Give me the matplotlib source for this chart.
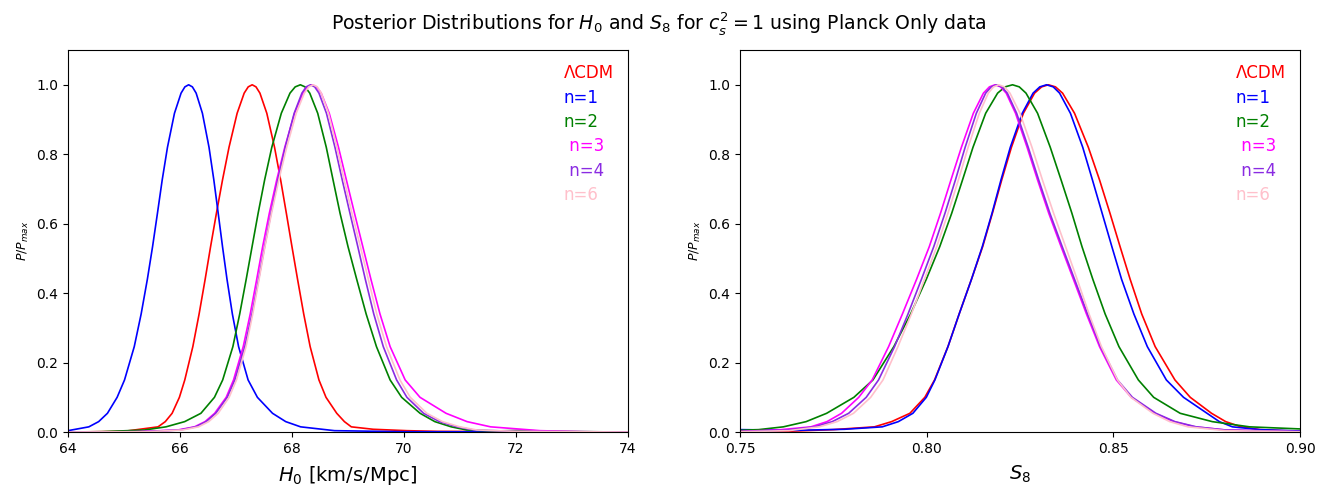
import matplotlib
matplotlib.use('Agg')
import matplotlib.pyplot as plt
from matplotlib.lines import Line2D

LEVELS = [0.015, 0.03, 0.054, 0.10, 0.15, 0.246, 0.34, 0.44, 0.534, 0.63, 0.726, 0.82, 0.918, 0.976, 0.994]

NAMES = ['ΛCDM', 'n=1', 'n=2', ' n=3', ' n=4', 'n=6']
COLORS = ['red', 'blue', 'green', 'magenta', 'blueviolet', 'pink']

# ── H0 panel: x of each side at LEVELS (both sides listed from the tail up to the peak) ──
h0_lcdm_l = [65.609, 65.738, 65.860, 65.990, 66.086, 66.230, 66.342, 66.450, 66.547, 66.651, 66.760, 66.876, 67.021, 67.147, 67.219]
h0_lcdm_r = [69.060, 68.937, 68.800, 68.608, 68.482, 68.325, 68.210, 68.100, 68.000, 67.900, 67.798, 67.689, 67.551, 67.428, 67.358]
h0_n1_l = [64.373, 64.548, 64.705, 64.878, 65.010, 65.184, 65.307, 65.418, 65.511, 65.598, 65.683, 65.777, 65.902, 66.020, 66.088]
h0_n1_r = [68.155, 67.889, 67.653, 67.383, 67.217, 67.047, 66.936, 66.840, 66.760, 66.683, 66.605, 66.519, 66.401, 66.289, 66.222]
h0_n2_l = [65.750, 66.084, 66.374, 66.616, 66.763, 66.945, 67.067, 67.183, 67.288, 67.396, 67.512, 67.640, 67.810, 67.965, 68.058]
h0_n2_r = [70.845, 70.552, 70.288, 69.959, 69.753, 69.509, 69.325, 69.156, 69.001, 68.859, 68.734, 68.613, 68.460, 68.318, 68.234]
h0_n3_l = [66.259, 66.448, 66.620, 66.826, 66.957, 67.130, 67.255, 67.371, 67.477, 67.596, 67.728, 67.872, 68.047, 68.196, 68.279]
h0_n3_r = [71.548, 71.127, 70.752, 70.287, 70.022, 69.753, 69.572, 69.410, 69.265, 69.117, 68.972, 68.831, 68.666, 68.522, 68.440]
h0_n4_l = [66.281, 66.468, 66.639, 66.845, 66.980, 67.158, 67.287, 67.405, 67.512, 67.626, 67.748, 67.880, 68.040, 68.178, 68.254]
h0_n4_r = [70.950, 70.634, 70.350, 70.053, 69.869, 69.631, 69.461, 69.310, 69.176, 69.036, 68.898, 68.768, 68.616, 68.482, 68.406]
h0_n6_l = [66.331, 66.513, 66.682, 66.878, 67.009, 67.180, 67.300, 67.413, 67.518, 67.635, 67.766, 67.906, 68.076, 68.221, 68.301]
h0_n6_r = [71.000, 70.689, 70.409, 70.112, 69.929, 69.689, 69.514, 69.364, 69.222, 69.072, 68.932, 68.801, 68.651, 68.524, 68.452]
h0_peaks = [67.29, 66.155, 68.15, 68.36, 68.33, 68.38]
h0_tail_l = [
    [(64.0, 0.0), (65.0, 0.002)],
    [(64.0, 0.004)],
    [(64.0, 0.0), (64.6, 0.001), (65.37, 0.006)],
    [(64.0, 0.0), (65.2, 0.001), (65.96, 0.006)],
    [(64.0, 0.0), (65.3, 0.001), (66.0, 0.006)],
    [(64.0, 0.0), (65.4, 0.001), (66.05, 0.006)],
]
h0_tail_r = [
    [(69.45, 0.008), (70.05, 0.004), (70.6, 0.002), (74.0, 0.0)],
    [(68.76, 0.004), (70.0, 0.001), (74.0, 0.0)],
    [(71.12, 0.006), (71.6, 0.003), (72.1, 0.005), (72.6, 0.002), (74.0, 0.0)],
    [(72.43, 0.004), (73.2, 0.001), (74.0, 0.0)],
    [(71.24, 0.006), (72.0, 0.002), (74.0, 0.0)],
    [(71.3, 0.006), (72.0, 0.002), (74.0, 0.0)],
]

# ── S8 panel ──
s8_lcdm_l = [0.7860, 0.7906, 0.7955, 0.7995, 0.8021, 0.8057, 0.8087, 0.8120, 0.8150, 0.8176, 0.8201, 0.8227, 0.8259, 0.8289, 0.8308]
s8_lcdm_r = [0.8842, 0.8801, 0.8763, 0.8706, 0.8665, 0.8612, 0.8576, 0.8545, 0.8518, 0.8491, 0.8463, 0.8433, 0.8396, 0.8364, 0.8345]
s8_n1_l = [0.7881, 0.7924, 0.7963, 0.7999, 0.8022, 0.8057, 0.8087, 0.8120, 0.8149, 0.8175, 0.8199, 0.8224, 0.8256, 0.8285, 0.8303]
s8_n1_r = [0.8819, 0.8784, 0.8751, 0.8688, 0.8642, 0.8591, 0.8555, 0.8522, 0.8496, 0.8470, 0.8444, 0.8418, 0.8385, 0.8356, 0.8339]
s8_n2_l = [0.7616, 0.7677, 0.7732, 0.7805, 0.7856, 0.7912, 0.7957, 0.7999, 0.8035, 0.8067, 0.8096, 0.8124, 0.8158, 0.8190, 0.8210]
s8_n2_r = [0.8865, 0.8765, 0.8679, 0.8608, 0.8567, 0.8515, 0.8478, 0.8445, 0.8416, 0.8389, 0.8360, 0.8331, 0.8297, 0.8266, 0.8248]
s8_n3_l = [0.7690, 0.7733, 0.7772, 0.7818, 0.7854, 0.7898, 0.7935, 0.7973, 0.8007, 0.8037, 0.8065, 0.8093, 0.8125, 0.8152, 0.8168]
s8_n3_r = [0.8719, 0.8662, 0.8611, 0.8548, 0.8508, 0.8463, 0.8428, 0.8393, 0.8360, 0.8327, 0.8297, 0.8269, 0.8238, 0.8213, 0.8198]
s8_n4_l = [0.7700, 0.7747, 0.7791, 0.7838, 0.7871, 0.7914, 0.7950, 0.7986, 0.8019, 0.8049, 0.8077, 0.8103, 0.8133, 0.8158, 0.8173]
s8_n4_r = [0.8722, 0.8665, 0.8614, 0.8551, 0.8511, 0.8466, 0.8431, 0.8396, 0.8363, 0.8330, 0.8300, 0.8272, 0.8241, 0.8216, 0.8201]
s8_n6_l = [0.7712, 0.7760, 0.7804, 0.7850, 0.7883, 0.7923, 0.7959, 0.7994, 0.8027, 0.8057, 0.8085, 0.8111, 0.8141, 0.8165, 0.8179]
s8_n6_r = [0.8700, 0.8651, 0.8606, 0.8547, 0.8511, 0.8468, 0.8435, 0.8403, 0.8372, 0.8340, 0.8310, 0.8282, 0.8250, 0.8223, 0.8208]
s8_peaks = [0.8326, 0.8321, 0.8230, 0.8183, 0.8187, 0.8193]
s8_tail_l = [
    [(0.75, 0.0), (0.765, 0.003), (0.775, 0.007)],
    [(0.75, 0.007), (0.765, 0.005), (0.778, 0.008)],
    [(0.75, 0.005), (0.755, 0.007)],
    [(0.75, 0.002), (0.76, 0.006)],
    [(0.75, 0.001), (0.762, 0.005)],
    [(0.75, 0.001), (0.763, 0.004)],
]
s8_tail_r = [
    [(0.8893, 0.007), (0.90, 0.002)],
    [(0.8893, 0.007), (0.90, 0.003)],
    [(0.90, 0.009)],
    [(0.88, 0.006), (0.90, 0.001)],
    [(0.88, 0.006), (0.90, 0.001)],
    [(0.88, 0.004), (0.90, 0.001)],
]

H0_LEFT = [h0_lcdm_l, h0_n1_l, h0_n2_l, h0_n3_l, h0_n4_l, h0_n6_l]
H0_RIGHT = [h0_lcdm_r, h0_n1_r, h0_n2_r, h0_n3_r, h0_n4_r, h0_n6_r]
S8_LEFT = [s8_lcdm_l, s8_n1_l, s8_n2_l, s8_n3_l, s8_n4_l, s8_n6_l]
S8_RIGHT = [s8_lcdm_r, s8_n1_r, s8_n2_r, s8_n3_r, s8_n4_r, s8_n6_r]


def curve(left, peak, right, tl, tr):
    xs = [p[0] for p in tl] + left + [peak] + right[::-1] + [p[0] for p in tr]
    ys = [p[1] for p in tl] + LEVELS + [1.0] + LEVELS[::-1] + [p[1] for p in tr]
    return xs, ys


fig = plt.figure(figsize=(13.17, 4.86), dpi=100)
ax1 = fig.add_axes([0.0516, 0.111, 0.4252, 0.786])
ax2 = fig.add_axes([0.5619, 0.111, 0.4252, 0.786])

panels = [
    (ax1, H0_LEFT, h0_peaks, H0_RIGHT, h0_tail_l, h0_tail_r, (64, 74), '$H_0$ [km/s/Mpc]'),
    (ax2, S8_LEFT, s8_peaks, S8_RIGHT, s8_tail_l, s8_tail_r, (0.75, 0.90), '$S_8$'),
]

for ax, L, P, R, TL, TR, xlim, xlabel in panels:
    for i in range(len(NAMES)):
        xs, ys = curve(L[i], P[i], R[i], TL[i], TR[i])
        ax.plot(xs, ys, color=COLORS[i], lw=1.2)
    ax.set_xlim(*xlim)
    ax.set_ylim(0, 1.1)
    ax.set_yticks([0.0, 0.2, 0.4, 0.6, 0.8, 1.0])
    ax.tick_params(labelsize=10)
    ax.set_xlabel(xlabel, fontsize=14, labelpad=6)
    ax.set_ylabel('$P/P_{max}$', fontsize=9)
    handles = [Line2D([], [], color=c, visible=False) for c in COLORS]
    ax.legend(handles, NAMES, loc='upper right', frameon=False, handlelength=0,
              handletextpad=0, fontsize=12, labelspacing=0.38, borderaxespad=0.45,
              labelcolor=COLORS)

ax2.set_xticks([0.75, 0.80, 0.85, 0.90])

fig.text(0.5, 0.951, 'Posterior Distributions for $H_0$ and $S_8$ for $c_s^2=1$ using Planck Only data',
         ha='center', va='center', fontsize=13.6)

fig.savefig('out.png', dpi=100)
